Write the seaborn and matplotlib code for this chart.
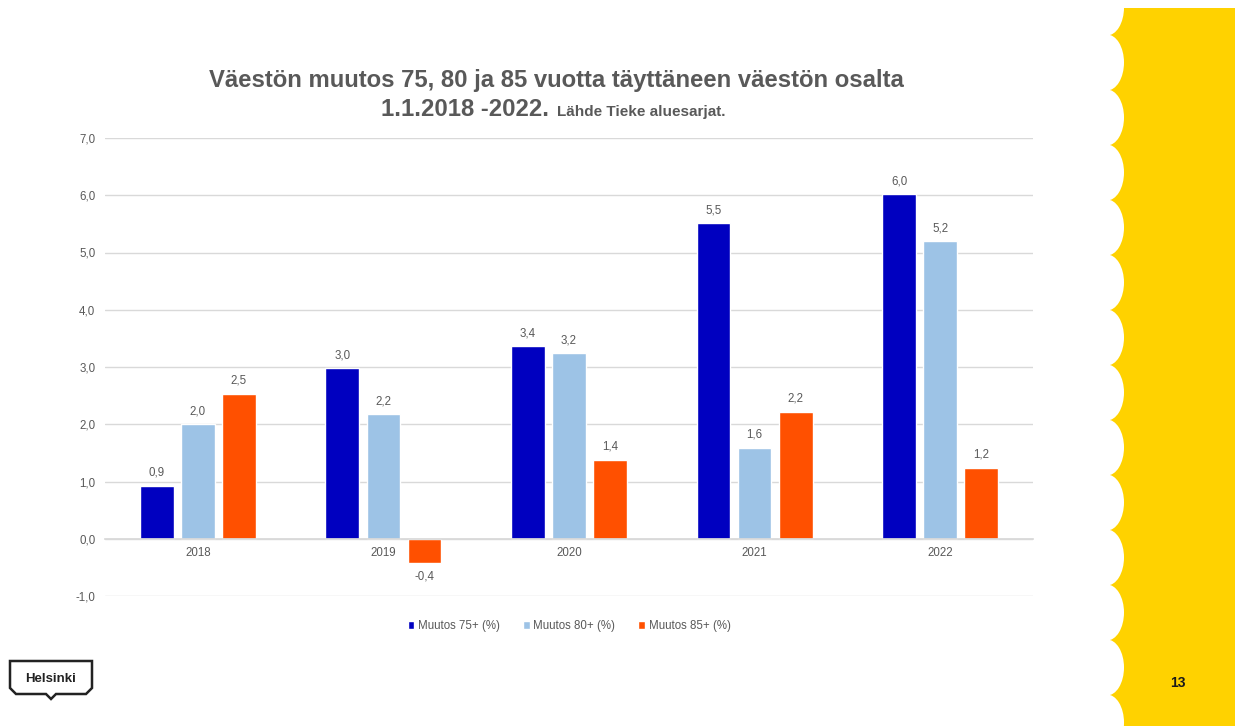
import numpy as np
import pandas as pd
import matplotlib
matplotlib.use("Agg")
import matplotlib.pyplot as plt
import matplotlib.patches as mpatches
import matplotlib.transforms as mtransforms
from matplotlib.path import Path
import seaborn as sns

years = ["2018", "2019", "2020", "2021", "2022"]
series = ["Muutos 75+ (%)", "Muutos 80+ (%)", "Muutos 85+ (%)"]
muutos75 = [0.93, 2.98, 3.36, 5.51, 6.02]
muutos80 = [2.00, 2.18, 3.24, 1.59, 5.20]
muutos85 = [2.53, -0.43, 1.38, 2.22, 1.24]
colors = ["#0000C0", "#9DC3E6", "#FF5000"]
yticks = [-1, 0, 1, 2, 3, 4, 5, 6, 7]

df = pd.DataFrame({
    "Vuosi": years * 3,
    "Sarja": [series[0]] * 5 + [series[1]] * 5 + [series[2]] * 5,
    "Arvo": muutos75 + muutos80 + muutos85,
})

sns.set_theme(style="white")
plt.rcParams["font.family"] = ["Liberation Sans", "DejaVu Sans"]

W, H = 1235, 726
small = 8.3
gray = "#595959"
fig = plt.figure(figsize=(W / 100, H / 100), dpi=100)
ax = fig.add_axes([105 / W, 1 - 596 / H, (1033 - 105) / W, (596 - 138) / H])

sns.barplot(data=df, x="Vuosi", y="Arvo", hue="Sarja", hue_order=series,
            order=years, palette=colors, width=0.665, gap=0.18,
            saturation=1, ax=ax, legend=True)

ax.set_ylim(-1, 7)
ax.set_xlim(-0.5, 4.5)
ax.set_yticks(yticks)
ax.set_yticklabels([f"{v:.1f}".replace(".", ",") for v in yticks],
                   color=gray, fontsize=small)
ax.yaxis.grid(True, color="#D9D9D9", linewidth=1)
ax.set_axisbelow(True)
for s in ["top", "right", "left"]:
    ax.spines[s].set_visible(False)
ax.spines["bottom"].set_position(("data", 0))
ax.spines["bottom"].set_color("#D9D9D9")
ax.tick_params(axis="both", length=0)
ax.tick_params(axis="y", pad=7)
ax.tick_params(axis="x", pad=6, labelsize=small, labelcolor=gray)
ax.set_xlabel("")
ax.set_ylabel("")

for cont in ax.containers:
    ax.bar_label(cont, labels=[f"{b.get_height():.1f}".replace(".", ",") for b in cont],
                 padding=5, fontsize=small, color=gray)

leg = ax.legend(loc="upper center", bbox_to_anchor=(0.5, -0.03), ncol=3,
                frameon=False, fontsize=small, handlelength=0.6, handleheight=0.6,
                handletextpad=0.3, columnspacing=2.0, labelcolor=gray)

# Title
fig.text(556 / W, 1 - 80 / H, "Väestön muutos 75, 80 ja 85 vuotta täyttäneen väestön osalta",
         ha="center", va="center", fontsize=17.2, fontweight="bold", color=gray)
fig.text(549 / W, 1 - 109 / H, "1.1.2018 -2022.", ha="right", va="center",
         fontsize=17.2, fontweight="bold", color=gray)
fig.text(557 / W, 1 - 112 / H, "Lähde Tieke aluesarjat.", ha="left", va="center",
         fontsize=11, fontweight="bold", color=gray)

# pixel transform (image coords, y down)
pt = mtransforms.Affine2D().scale(1 / W, -1 / H).translate(0, 1) + fig.transFigure

# Yellow scalloped panel
yellow = "#FFD200"
fig.add_artist(mpatches.Rectangle((1107, 8), W - 1107, H - 8, transform=pt,
                                  facecolor=yellow, edgecolor="none", zorder=0))
for k in range(-1, 14):
    cy = 62.5 + 55 * k
    fig.add_artist(mpatches.Ellipse((1107, cy), 34, 56, transform=pt,
                                    facecolor="white", edgecolor="none", zorder=0.5))
fig.add_artist(mpatches.Rectangle((1080, 0), W - 1080, 8, transform=pt,
                                  facecolor="white", edgecolor="none", zorder=0.6))
fig.text(1178 / W, 1 - 683 / H, "13", ha="center", va="center", fontsize=10,
         fontweight="bold", color="#1a1a1a")

# Helsinki logo
verts = [(10, 661), (92, 661), (92, 688), (86, 694), (56, 694), (51, 699),
         (46, 694), (16, 694), (10, 688), (10, 661)]
codes = [Path.MOVETO] + [Path.LINETO] * (len(verts) - 2) + [Path.CLOSEPOLY]
fig.add_artist(mpatches.PathPatch(Path(verts, codes), transform=pt,
                                  facecolor="white", edgecolor="#222222", linewidth=1.8))
fig.text(51 / W, 1 - 679 / H, "Helsinki", ha="center", va="center", fontsize=9.5,
         fontweight="bold", color="#222222")

fig.savefig("out.png", dpi=100)
